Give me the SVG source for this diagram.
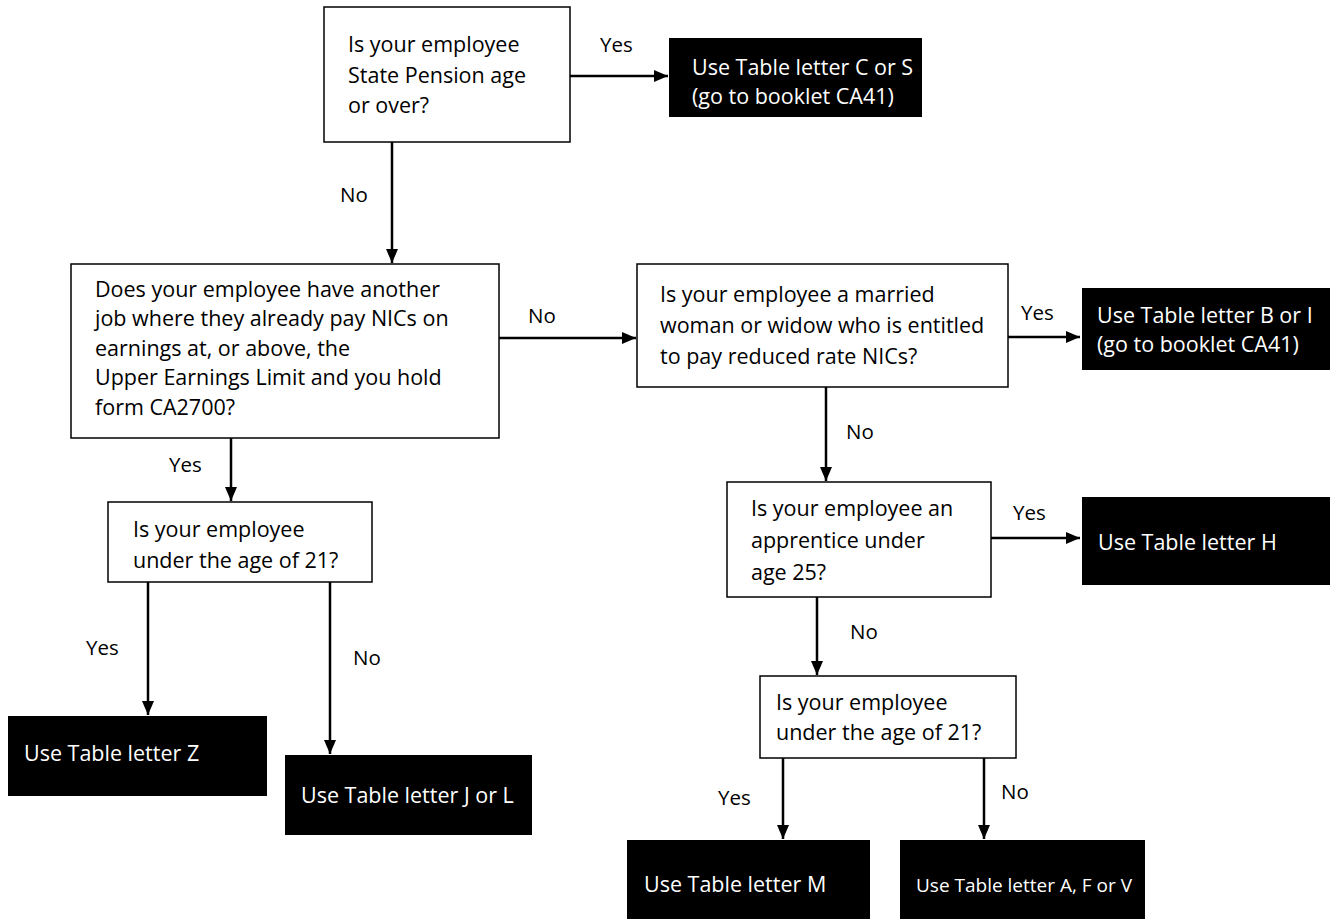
<svg xmlns="http://www.w3.org/2000/svg" width="1330" height="919" viewBox="0 0 1330 919">
<defs>
<marker id="arr" markerUnits="userSpaceOnUse" markerWidth="14" markerHeight="12" refX="14" refY="6" orient="auto">
<path d="M0,0 L14,6 L0,12 z" fill="#000"/>
</marker>
<style>
.q{fill:#fff;stroke:#000;stroke-width:1.5}
.r{fill:#000;stroke:none}
.t{font-family:"Open Sans","Noto Sans",sans-serif;font-size:21.5px;fill:#000}
.l{font-family:"Open Sans","Noto Sans",sans-serif;font-size:20.5px;fill:#000}
.w{font-family:"Open Sans","Noto Sans",sans-serif;font-size:21.5px;fill:#fff}
.c{stroke:#000;stroke-width:2.5;fill:none;marker-end:url(#arr)}
</style>
</defs>
<rect width="1330" height="919" fill="#fff"/>
<g id="connectors">
<line class="c" x1="570" y1="76" x2="668" y2="76"/>
<line class="c" x1="392" y1="142" x2="392" y2="263"/>
<line class="c" x1="499" y1="338" x2="636" y2="338"/>
<line class="c" x1="1008" y1="337" x2="1080" y2="337"/>
<line class="c" x1="826" y1="387" x2="826" y2="481"/>
<line class="c" x1="231" y1="438" x2="231" y2="501"/>
<line class="c" x1="991" y1="538" x2="1080" y2="538"/>
<line class="c" x1="817" y1="597" x2="817" y2="675"/>
<line class="c" x1="148" y1="582" x2="148" y2="715"/>
<line class="c" x1="330" y1="582" x2="330" y2="754"/>
<line class="c" x1="783" y1="758" x2="783" y2="839"/>
<line class="c" x1="984" y1="758" x2="984" y2="839"/>
<text class="l" x="600" y="52">Yes</text>
<text class="l" x="340" y="202">No</text>
<text class="l" x="528" y="323">No</text>
<text class="l" x="1021" y="320">Yes</text>
<text class="l" x="846" y="439">No</text>
<text class="l" x="169" y="472">Yes</text>
<text class="l" x="1013" y="520">Yes</text>
<text class="l" x="850" y="639">No</text>
<text class="l" x="86" y="655">Yes</text>
<text class="l" x="353" y="665">No</text>
<text class="l" x="718" y="805">Yes</text>
<text class="l" x="1001" y="799">No</text>
</g>
<g id="q1">
<rect class="q" x="324" y="7" width="246" height="135"/>
<text class="t" x="348" y="52">Is your employee</text>
<text class="t" x="348" y="83">State Pension age</text>
<text class="t" x="348" y="113">or over?</text>
</g>
<g id="r-cs">
<rect class="r" x="669" y="38" width="253" height="79"/>
<text class="w" x="692" y="75">Use Table letter C or S</text>
<text class="w" x="692" y="104">(go to booklet CA41)</text>
</g>
<g id="q2">
<rect class="q" x="71" y="264" width="428" height="174"/>
<text class="t" x="95" y="297">Does your employee have another</text>
<text class="t" x="95" y="326">job where they already pay NICs on</text>
<text class="t" x="95" y="356">earnings at, or above, the</text>
<text class="t" x="95" y="385">Upper Earnings Limit and you hold</text>
<text class="t" x="95" y="415">form CA2700?</text>
</g>
<g id="q3">
<rect class="q" x="637" y="264" width="371" height="123"/>
<text class="t" x="660" y="302">Is your employee a married</text>
<text class="t" x="660" y="333">woman or widow who is entitled</text>
<text class="t" x="660" y="364">to pay reduced rate NICs?</text>
</g>
<g id="r-bi">
<rect class="r" x="1082" y="288" width="248" height="82"/>
<text class="w" x="1097" y="323">Use Table letter B or I</text>
<text class="w" x="1097" y="352">(go to booklet CA41)</text>
</g>
<g id="q4">
<rect class="q" x="108" y="502" width="264" height="80"/>
<text class="t" x="133" y="537">Is your employee</text>
<text class="t" x="133" y="568">under the age of 21?</text>
</g>
<g id="q5">
<rect class="q" x="727" y="482" width="264" height="115"/>
<text class="t" x="751" y="516">Is your employee an</text>
<text class="t" x="751" y="548">apprentice under</text>
<text class="t" x="751" y="580">age 25?</text>
</g>
<g id="r-h">
<rect class="r" x="1082" y="497" width="248" height="88"/>
<text class="w" x="1098" y="550">Use Table letter H</text>
</g>
<g id="r-z">
<rect class="r" x="8" y="716" width="259" height="80"/>
<text class="w" x="24" y="761">Use Table letter Z</text>
</g>
<g id="r-jl">
<rect class="r" x="285" y="755" width="247" height="80"/>
<text class="w" x="301" y="803">Use Table letter J or L</text>
</g>
<g id="q6">
<rect class="q" x="760" y="676" width="256" height="82"/>
<text class="t" x="776" y="710">Is your employee</text>
<text class="t" x="776" y="740">under the age of 21?</text>
</g>
<g id="r-m">
<rect class="r" x="627" y="840" width="243" height="79"/>
<text class="w" x="644" y="892">Use Table letter M</text>
</g>
<g id="r-afv">
<rect class="r" x="900" y="840" width="245" height="79"/>
<text class="w" x="916" y="892" style="font-size:19px">Use Table letter A, F or V</text>
</g>
</svg>
